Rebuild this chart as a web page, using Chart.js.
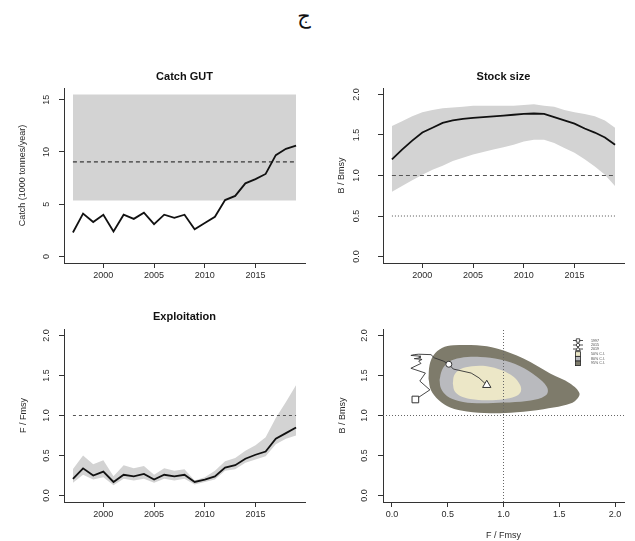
<!DOCTYPE html>
<html>
<head>
<meta charset="utf-8">
<script src="https://cdn.jsdelivr.net/npm/chart.js@4.4.0/dist/chart.umd.min.js"></script>
<style>
  html, body { margin: 0; padding: 0; background: #fff; overflow: hidden; }
  body { width: 635px; height: 541px; position: relative; }
  canvas { position: absolute; }
  #letter { position: absolute; left: 289px; top: 4px; width: 30px; text-align: center;
            font: 21px 'DejaVu Sans', sans-serif; color: #111; }
</style>
</head>
<body>
<div id="letter">ج</div>
<canvas id="catchChart" width="317" height="235" style="left:0;top:60px"></canvas>
<canvas id="stockChart" width="318" height="235" style="left:317px;top:60px"></canvas>
<canvas id="fChart" width="317" height="244" style="left:0;top:297px"></canvas>
<canvas id="kobeChart" width="318" height="244" style="left:317px;top:297px"></canvas>
<script>
// data
const years = [1997, 1998, 1999, 2000, 2001, 2002, 2003, 2004, 2005, 2006, 2007, 2008,
               2009, 2010, 2011, 2012, 2013, 2014, 2015, 2016, 2017, 2018, 2019];
const catchGUT = [2.3, 4.1, 3.3, 4.0, 2.4, 4.0, 3.6, 4.2, 3.1, 4.0, 3.7, 4.0,
                  2.6, 3.2, 3.8, 5.4, 5.8, 7.0, 7.4, 7.9, 9.7, 10.3, 10.6];
const catchBoxYears = [1997, 2019];
const catchBoxLow = [5.35, 5.35];
const catchBoxHigh = [15.5, 15.5];
const catchRef = [9.05, 9.05];

const bBmsy = [1.20, 1.32, 1.43, 1.53, 1.59, 1.65, 1.68, 1.70, 1.71, 1.72, 1.73, 1.74,
               1.75, 1.76, 1.765, 1.76, 1.72, 1.68, 1.64, 1.58, 1.53, 1.47, 1.38];
const bHigh = [1.61, 1.67, 1.73, 1.78, 1.81, 1.83, 1.84, 1.85, 1.86, 1.86, 1.86, 1.86,
               1.86, 1.87, 1.88, 1.86, 1.85, 1.81, 1.78, 1.76, 1.73, 1.68, 1.59];
const bLow = [0.80, 0.87, 0.94, 1.01, 1.07, 1.12, 1.18, 1.22, 1.26, 1.29, 1.32, 1.35,
              1.38, 1.42, 1.44, 1.44, 1.40, 1.34, 1.28, 1.20, 1.11, 1.01, 0.87];

const fFmsy = [0.21, 0.34, 0.25, 0.30, 0.17, 0.26, 0.24, 0.27, 0.20, 0.26, 0.24, 0.26,
               0.17, 0.20, 0.24, 0.35, 0.38, 0.46, 0.51, 0.55, 0.71, 0.78, 0.85];
const fHigh = [0.33, 0.50, 0.39, 0.44, 0.24, 0.38, 0.34, 0.37, 0.26, 0.34, 0.31, 0.33,
               0.19, 0.23, 0.31, 0.43, 0.47, 0.56, 0.63, 0.73, 0.97, 1.17, 1.38];
const fLow = [0.16, 0.26, 0.20, 0.23, 0.13, 0.21, 0.19, 0.21, 0.16, 0.21, 0.19, 0.21,
              0.14, 0.17, 0.20, 0.31, 0.33, 0.41, 0.45, 0.49, 0.64, 0.71, 0.75];

const refYears = [1997, 2019];
const refOne = [1.0, 1.0];
const refHalf = [0.5, 0.5];

// kobe confidence regions (F/Fmsy, B/Bmsy)
const ci95F = [0.328, 0.337, 0.373, 0.448, 0.552, 0.761, 0.940, 1.179, 1.418, 1.597, 1.681,
               1.642, 1.537, 1.358, 1.119, 0.881, 0.672, 0.522, 0.418, 0.349, 0.328];
const ci95B = [1.463, 1.628, 1.752, 1.843, 1.876, 1.876, 1.835, 1.711, 1.525, 1.401, 1.277,
               1.182, 1.124, 1.079, 1.041, 1.029, 1.050, 1.099, 1.194, 1.318, 1.463];
const ci80F = [0.427, 0.448, 0.507, 0.612, 0.791, 0.970, 1.149, 1.299, 1.388, 1.394,
               1.343, 1.209, 1.000, 0.761, 0.597, 0.493, 0.439, 0.427];
const ci80B = [1.442, 1.566, 1.669, 1.719, 1.731, 1.698, 1.616, 1.483, 1.360, 1.277,
               1.223, 1.182, 1.161, 1.153, 1.182, 1.244, 1.339, 1.442];
const ci50F = [0.546, 0.558, 0.612, 0.716, 0.851, 0.985, 1.090, 1.149, 1.155, 1.104,
               1.000, 0.851, 0.701, 0.612, 0.561, 0.546];
const ci50B = [1.401, 1.504, 1.579, 1.616, 1.616, 1.566, 1.483, 1.380, 1.298, 1.236,
               1.202, 1.190, 1.207, 1.244, 1.306, 1.401];
const kobeAxisEnds = [-0.08, 2.08];
const kobeLegend = ['1997', '2015', '2019', '50% C.I.', '80% C.I.', '95% C.I.'];

const yearTicks = [2000, 2005, 2010, 2015];
const catchTicks = [0, 5, 10, 15];
const ratioTicks = [0, 0.5, 1, 1.5, 2];

const FONT = '"Liberation Sans", Arial, sans-serif';
const AX = '#333';
const TXT = '#2a2a2a';
const BAND = '#d3d3d3';
const C95 = '#7e7b6b', C80 = '#b9babe', C50 = '#ece7c7';

const pts = (xs, ys) => xs.map((x, i) => ({x: x, y: ys[i]}));
const at = yr => years.indexOf(yr);

function xAxis(min, max, ticks, fmt, h, title, titlePad) {
  return {
    type: 'linear', min: min, max: max,
    afterBuildTicks: s => { s.ticks = ticks.map(v => ({value: v})); },
    afterFit: s => { s.height = h; },
    border: {display: true, color: AX, width: 1},
    grid: {display: true, drawOnChartArea: false, drawTicks: true, tickLength: 5, color: AX},
    ticks: {color: TXT, font: {size: 9, family: FONT}, padding: 2, maxRotation: 0,
            autoSkip: false, callback: fmt},
    title: title ? {display: true, text: title, color: TXT, font: {size: 9, family: FONT},
                    padding: {top: 0, bottom: titlePad}} : {display: false}
  };
}

function yAxis(min, max, ticks, fmt, w, labelPad, title, titlePad) {
  return {
    type: 'linear', min: min, max: max,
    afterBuildTicks: s => { s.ticks = ticks.map(v => ({value: v})); },
    afterFit: s => { s.width = w; },
    border: {display: true, color: AX, width: 1},
    grid: {display: true, drawOnChartArea: false, drawTicks: true, tickLength: 5, color: AX},
    ticks: {color: TXT, font: {size: 9, family: FONT}, padding: labelPad, minRotation: 90,
            maxRotation: 90, crossAlign: 'center', autoSkip: false, callback: fmt},
    title: {display: true, text: title, color: TXT, font: {size: 9, family: FONT},
            padding: {top: titlePad, bottom: 0}}
  };
}

const fmtInt = v => String(v);
const fmt1 = v => v.toFixed(1);

// title centred over the plot region, like R's main=
const panelTitle = {
  id: 'panelTitle',
  afterDraw(chart, args, opts) {
    if (!opts.text) return;
    const {ctx, chartArea} = chart;
    ctx.save();
    ctx.font = 'bold 11px ' + FONT;
    ctx.fillStyle = '#111';
    ctx.textAlign = 'center';
    ctx.textBaseline = 'middle';
    ctx.fillText(opts.text, (chartArea.left + chartArea.right) / 2, opts.y);
    ctx.restore();
  }
};

function baseOptions(padding, scales, title) {
  return {
    responsive: false,
    animation: false,
    layout: {padding: padding},
    scales: scales,
    plugins: {
      legend: {display: false},
      tooltip: {enabled: false},
      panelTitle: title || {}
    },
    elements: {point: {radius: 0}, line: {tension: 0}}
  };
}

const lineSet = (data, extra) => Object.assign({
  data: data, borderColor: '#111', borderWidth: 1.8, pointRadius: 0, fill: false
}, extra);

// Catch
new Chart(document.getElementById('catchChart'), {
  type: 'line',
  data: {datasets: [
    lineSet(pts(years, catchGUT), {order: 0}),
    lineSet(pts(catchBoxYears, catchRef), {order: 1, borderWidth: 1, borderDash: [4, 3]}),
    lineSet(pts(catchBoxYears, catchBoxHigh), {order: 3, borderWidth: 0, borderColor: 'transparent',
            backgroundColor: BAND, fill: '+1'}),
    lineSet(pts(catchBoxYears, catchBoxLow), {order: 4, borderWidth: 0, borderColor: 'transparent'})
  ]},
  options: baseOptions({left: 0, right: 12, top: 28, bottom: 0}, {
    x: xAxis(1996.12, 2019.88, yearTicks, fmtInt, 32),
    y: yAxis(-0.62, 16.12, catchTicks, fmtInt, 64, 7, 'Catch (1000 tonnes/year)', 17)
  }, {text: 'Catch GUT', y: 17}),
  plugins: [panelTitle]
});

// Stock size
new Chart(document.getElementById('stockChart'), {
  type: 'line',
  data: {datasets: [
    lineSet(pts(years, bBmsy), {order: 0}),
    lineSet(pts(refYears, refOne), {order: 1, borderWidth: 1, borderColor: '#555', borderDash: [4, 3]}),
    lineSet(pts(refYears, refHalf), {order: 1, borderWidth: 1, borderColor: '#555', borderDash: [1, 2]}),
    lineSet(pts(years, bHigh), {order: 3, borderWidth: 0, borderColor: 'transparent',
            backgroundColor: BAND, fill: '+1'}),
    lineSet(pts(years, bLow), {order: 4, borderWidth: 0, borderColor: 'transparent'})
  ]},
  options: baseOptions({left: 0, right: 11, top: 28, bottom: 0}, {
    x: xAxis(1996.12, 2019.88, yearTicks, fmtInt, 32),
    y: yAxis(-0.08, 2.08, ratioTicks, fmt1, 66, 15, 'B / Bmsy', 19)
  }, {text: 'Stock size', y: 17}),
  plugins: [panelTitle]
});

// Exploitation
new Chart(document.getElementById('fChart'), {
  type: 'line',
  data: {datasets: [
    lineSet(pts(years, fFmsy), {order: 0}),
    lineSet(pts(refYears, refOne), {order: 1, borderWidth: 1, borderColor: '#555', borderDash: [3, 3]}),
    lineSet(pts(years, fHigh), {order: 3, borderWidth: 0, borderColor: 'transparent',
            backgroundColor: BAND, fill: '+1'}),
    lineSet(pts(years, fLow), {order: 4, borderWidth: 0, borderColor: 'transparent'})
  ]},
  options: baseOptions({left: 0, right: 12, top: 32, bottom: 7}, {
    x: xAxis(1996.12, 2019.88, yearTicks, fmtInt, 32),
    y: yAxis(-0.08, 2.08, ratioTicks, fmt1, 64, 6, 'F / Fmsy', 18)
  }, {text: 'Exploitation', y: 20}),
  plugins: [panelTitle]
});

// Kobe legend drawn in the top-right corner of the plot region
const kobeLegendPlugin = {
  id: 'kobeLegend',
  afterDraw(chart) {
    const ctx = chart.ctx;
    const sx = 261, tx = 274;
    const rows = [43.5, 48, 52, 57, 61.8, 66.3];
    ctx.save();
    ctx.font = '3.6px ' + FONT;
    ctx.textBaseline = 'middle';
    ctx.fillStyle = '#444';
    kobeLegend.forEach((t, i) => ctx.fillText(t, tx, rows[i]));
    ctx.strokeStyle = '#222';
    ctx.lineWidth = 0.8;
    for (let i = 0; i < 3; i++) {
      ctx.beginPath(); ctx.moveTo(sx - 5, rows[i]); ctx.lineTo(sx + 5, rows[i]); ctx.stroke();
    }
    ctx.fillStyle = '#fff';
    ctx.beginPath(); ctx.rect(sx - 1.7, rows[0] - 1.7, 3.4, 3.4); ctx.fill(); ctx.stroke();
    ctx.beginPath(); ctx.arc(sx, rows[1], 1.7, 0, Math.PI * 2); ctx.fill(); ctx.stroke();
    ctx.beginPath(); ctx.moveTo(sx, rows[2] - 2.2); ctx.lineTo(sx + 2.3, rows[2] + 1.6);
    ctx.lineTo(sx - 2.3, rows[2] + 1.6); ctx.closePath(); ctx.fill(); ctx.stroke();
    [C50, C80, C95].forEach((c, i) => {
      ctx.fillStyle = c;
      ctx.fillRect(sx - 2.5, rows[3 + i] - 2.3, 5, 4.6);
      ctx.strokeRect(sx - 2.5, rows[3 + i] - 2.3, 5, 4.6);
    });
    ctx.restore();
  }
};

const shape = (xs, ys, color, order) => ({
  data: pts(xs, ys), borderColor: 'transparent', borderWidth: 0, backgroundColor: color,
  fill: 'shape', pointRadius: 0, tension: 0.35, order: order
});
const marker = (yr, style, r) => ({
  data: [{x: fFmsy[at(yr)], y: bBmsy[at(yr)]}], showLine: false, pointStyle: style,
  pointRadius: r, pointBackgroundColor: '#fff', pointBorderColor: '#333', pointBorderWidth: 1, order: 0
});

new Chart(document.getElementById('kobeChart'), {
  type: 'line',
  data: {datasets: [
    marker(1997, 'rect', 4.7),
    marker(2015, 'circle', 3),
    marker(2019, 'triangle', 4.8),
    lineSet(pts(fFmsy, bBmsy), {order: 1, borderWidth: 0.9, borderColor: '#333'}),
    lineSet(pts(kobeAxisEnds, refOne), {order: 2, borderWidth: 1, borderColor: '#666', borderDash: [1, 2]}),
    lineSet(pts(refOne, kobeAxisEnds), {order: 2, borderWidth: 1, borderColor: '#666', borderDash: [1, 2]}),
    shape(ci50F, ci50B, C50, 3),
    shape(ci80F, ci80B, C80, 4),
    shape(ci95F, ci95B, C95, 5)
  ]},
  options: baseOptions({left: 0, right: 11, top: 32, bottom: 0}, {
    x: xAxis(-0.08, 2.08, ratioTicks, fmt1, 39, 'F / Fmsy', 0),
    y: yAxis(-0.08, 2.08, ratioTicks, fmt1, 66, 6.75, 'B / Bmsy', 20)
  }),
  plugins: [kobeLegendPlugin]
});
</script>
</body>
</html>
